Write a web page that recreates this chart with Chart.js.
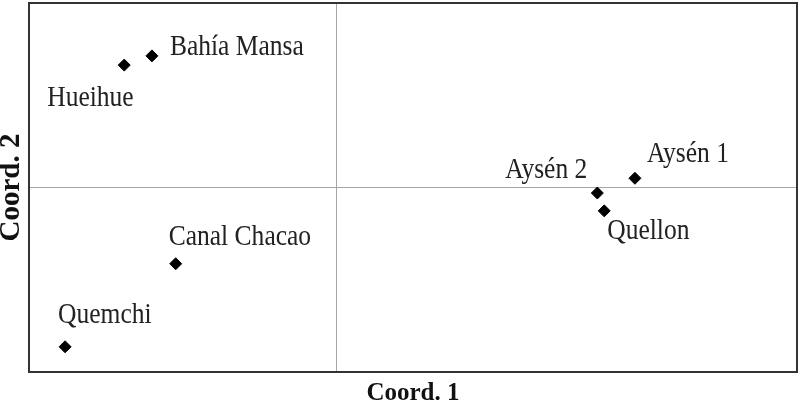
<!DOCTYPE html>
<html>
<head>
<meta charset="utf-8">
<script src="https://cdn.jsdelivr.net/npm/chart.js@4/dist/chart.umd.min.js"></script>
<style>
  html, body { margin: 0; padding: 0; background: #fff; }
  #wrap { width: 801px; height: 403px; }
</style>
</head>
<body>
<div id="wrap"><canvas id="chart" width="801" height="403"></canvas></div>
<script>
const SITES = ["Hueihue", "Bahía Mansa", "Aysén 1", "Aysén 2", "Quellon", "Canal Chacao", "Quemchi"];
const COORD1 = [-0.276, -0.240, 0.389, 0.340, 0.349, -0.209, -0.353];
const COORD2 = [0.199, 0.214, 0.015, -0.009, -0.038, -0.124, -0.259];

const SERIF = '"Liberation Serif", "Times New Roman", serif';

// where each name sits relative to its marker (px, alphabetic baseline)
const LABEL_POS = {
  "Hueihue": { dx: -77, dy: 41, align: "left" },
  "Bahía Mansa": { dx: 18, dy: -1, align: "left" },
  "Aysén 1": { dx: 12, dy: -16, align: "left" },
  "Aysén 2": { dx: -10, dy: -15, align: "right" },
  "Quellon": { dx: 3, dy: 28, align: "left" },
  "Canal Chacao": { dx: -7, dy: -19, align: "left" },
  "Quemchi": { dx: -7, dy: -24, align: "left" },
};

const boxAndLabels = {
  id: "boxAndLabels",
  afterDatasetsDraw(chart) {
    const { ctx, chartArea: a } = chart;
    ctx.save();
    ctx.strokeStyle = "#333";
    ctx.lineWidth = 2;
    ctx.strokeRect(a.left, a.top, a.right - a.left, a.bottom - a.top);

    const meta = chart.getDatasetMeta(0);
    ctx.fillStyle = "#222";
    ctx.font = "29px " + SERIF;
    ctx.textBaseline = "alphabetic";
    meta.data.forEach((pt, i) => {
      const pos = LABEL_POS[SITES[i]];
      ctx.save();
      ctx.translate(pt.x + pos.dx, pt.y + pos.dy);
      ctx.scale(0.88, 1);
      ctx.textAlign = pos.align;
      ctx.fillText(SITES[i], 0, 0);
      ctx.restore();
    });
    ctx.restore();
  },
};

const zeroLine = (c) => (c.tick && c.tick.value === 0 ? "#a6a6a6" : "rgba(0,0,0,0)");

new Chart(document.getElementById("chart").getContext("2d"), {
  type: "scatter",
  data: {
    datasets: [
      {
        label: "Sites",
        data: SITES.map((s, i) => ({ x: COORD1[i], y: COORD2[i] })),
        pointStyle: "rectRot",
        pointRadius: 6,
        pointHoverRadius: 6,
        backgroundColor: "#000",
        borderColor: "#000",
        borderWidth: 1,
      },
    ],
  },
  options: {
    responsive: false,
    animation: false,
    layout: { autoPadding: false, padding: { top: 3, right: 4, left: 0, bottom: 0 } },
    scales: {
      x: {
        min: -0.4,
        max: 0.6,
        ticks: { display: false, stepSize: 0.2 },
        grid: { color: zeroLine, lineWidth: 1, drawTicks: false },
        border: { display: false },
        title: {
          display: true,
          text: "Coord. 1",
          color: "#111",
          font: { family: SERIF, size: 25, weight: "bold", lineHeight: "13px" },
          padding: { top: 15, bottom: 3 },
        },
      },
      y: {
        min: -0.3,
        max: 0.3,
        ticks: { display: false, stepSize: 0.1 },
        grid: { color: zeroLine, lineWidth: 1, drawTicks: false },
        border: { display: false },
        title: {
          display: true,
          text: "Coord. 2",
          color: "#111",
          font: { family: SERIF, size: 29, weight: "bold", lineHeight: "18px" },
          padding: { top: 3, bottom: 8 },
        },
      },
    },
    plugins: {
      legend: { display: false },
      tooltip: { enabled: false },
    },
  },
  plugins: [boxAndLabels],
});
</script>
</body>
</html>
